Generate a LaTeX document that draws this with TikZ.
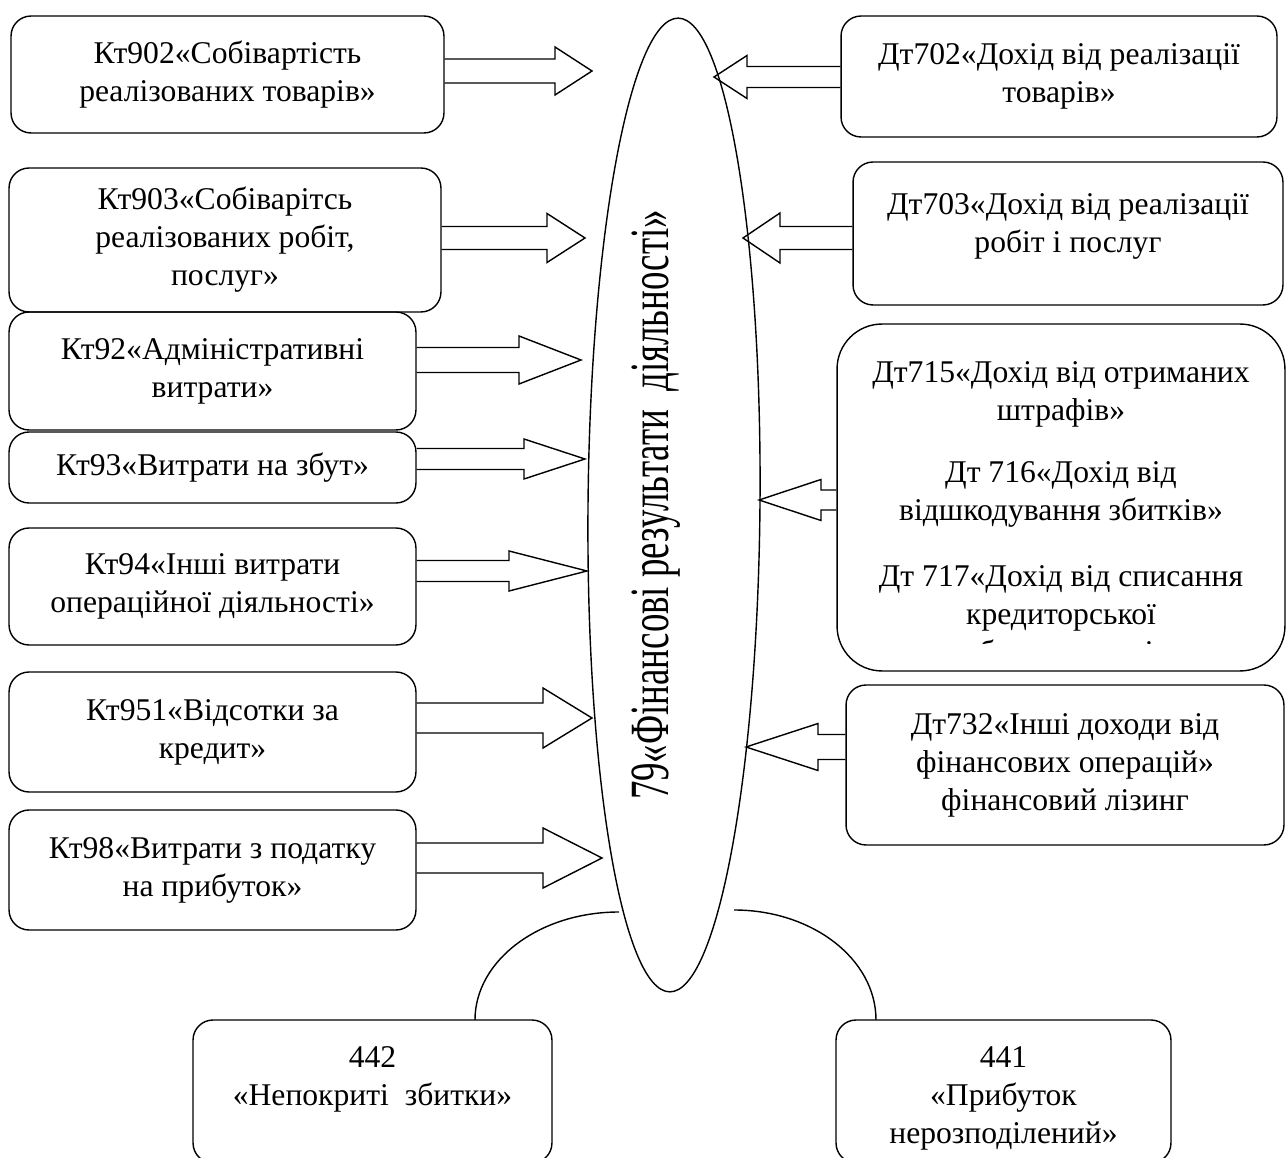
\documentclass[tikz,border=0pt]{standalone}
\usepackage{fontspec}
\setmainfont{Liberation Serif}
\usepackage{tikz}
\usetikzlibrary{shapes.geometric}
\usetikzlibrary{calc}

\newcommand{\boxfont}{\fontsize{18}{21.6}\selectfont}
\newcommand{\bigfont}{\fontsize{21}{25}\selectfont}

\tikzset{
  acc/.style={draw, line width=0.8pt, rounded corners=0.4cm, align=center, inner sep=0pt, font=\boxfont},
  txt/.style={align=center, inner sep=0pt, font=\boxfont},
  barrow/.style={line width=0.8pt, line join=miter},
}

% block arrow: start, tip, shaft half width, head half width, head length
\newcommand{\blockarrow}[5]{%
  \draw[barrow] ($(#1)+(0,-#3)$) -- ($(#2)+(-#5,-#3)$) -- ($(#2)+(-#5,-#4)$) -- (#2)
    -- ($(#2)+(-#5,#4)$) -- ($(#2)+(-#5,#3)$) -- ($(#1)+(0,#3)$);}

\begin{document}
\begin{tikzpicture}[x=0.02cm,y=-0.02cm]
\clip (0,0) rectangle (1286,1158);

% centre
\node[draw, ellipse, line width=0.8pt, minimum width=3.44cm, minimum height=19.48cm, rotate=-0.5] (fin) at (674,505) {};
\node[rotate=90, anchor=base, font=\bigfont] (title) at (668,505) {\scalebox{1}[1.5]{79«Фінансові результати~ діяльності»}};

% left: expenses
\node[acc, minimum width=8.66cm, minimum height=2.34cm] (kt902) at (227.5,74.5) {Кт902«Собівартість\\реалізованих товарів»};
\node[acc, minimum width=8.64cm, minimum height=2.88cm] (kt903) at (225,240) {Кт903«Собіварітсь\\реалізованих робіт,\\послуг»};
\node[acc, minimum width=8.14cm, minimum height=2.36cm] (kt92) at (212.5,371) {Кт92«Адміністративні\\витрати»};
\node[acc, minimum width=8.14cm, minimum height=1.42cm] (kt93) at (212.5,467.5) {Кт93«Витрати на збут»};
\node[acc, minimum width=8.14cm, minimum height=2.34cm] (kt94) at (212.5,586.5) {Кт94«Інші витрати\\операційної діяльності»};
\node[acc, minimum width=8.14cm, minimum height=2.40cm] (kt951) at (212.5,732) {Кт951«Відсотки за\\кредит»};
\node[acc, minimum width=8.14cm, minimum height=2.40cm] (kt98) at (212.5,870) {Кт98«Витрати з податку\\на прибуток»};

% right: income
\node[acc, minimum width=8.72cm, minimum height=2.42cm] (dt702) at (1059,76.5) {Дт702«Дохід від реалізації\\товарів»};
\node[acc, minimum width=8.60cm, minimum height=2.86cm, text depth=0.42cm] (dt703) at (1068,233.5) {Дт703«Дохід від реалізації\\робіт і послуг};
\node[acc, rounded corners=0.9cm, minimum width=8.96cm, minimum height=6.94cm] (dt71x) at (1061,497.5) {};
\node[txt] (dt715) at (1061,394.5) {Дт715«Дохід від отриманих\\штрафів»};
\node[txt] (dt716) at (1061,494.5) {Дт 716«Дохід від\\відшкодування збитків»};
\begin{scope}
\clip (837,324) rectangle (1285,644);
\node[txt] (dt717) at (1061,617) {Дт 717«Дохід від списання\\кредиторської\\заборгованості»};
\end{scope}
\node[acc, minimum width=8.76cm, minimum height=3.2cm] (dt732) at (1065,765) {Дт732«Інші доходи від\\фінансових операцій»\\фінансовий лізинг};

% bottom
\node[acc, minimum width=7.18cm, minimum height=2.86cm] (r442) at (372.5,1091.5) {};
\node[txt] (t442) at (372.5,1079) {442\\«Непокриті~ збитки»};
\node[acc, minimum width=6.70cm, minimum height=2.86cm] (r441) at (1003.5,1091.5) {};
\node[txt] (t441) at (1003.5,1098) {441\\«Прибуток\\нерозподілений»};

% arrow tips
\coordinate (t1) at (592,71);
\coordinate (t2) at (585,238);
\coordinate (t3) at (581,360);
\coordinate (t4) at (585,459);
\coordinate (t5) at (587,571);
\coordinate (t6) at (592,718);
\coordinate (t7) at (602,858);
\coordinate (u1) at (714,77);
\coordinate (u2) at (743,238);
\coordinate (u3) at (759,500);
\coordinate (u4) at (746,747);

\blockarrow{kt902.east |- t1}{t1}{12}{24}{37}
\blockarrow{kt903.east |- t2}{t2}{11.5}{24.5}{38}
\blockarrow{kt92.east |- t3}{t3}{12.5}{24}{62}
\blockarrow{kt93.east |- t4}{t4}{10.5}{20}{61}
\blockarrow{kt94.east |- t5}{t5}{10.5}{20}{78}
\blockarrow{kt951.east |- t6}{t6}{15}{30}{49}
\blockarrow{kt98.east |- t7}{t7}{15}{30}{59}
\blockarrow{dt702.west |- u1}{u1}{10.5}{21.5}{-33}
\blockarrow{dt703.west |- u2}{u2}{11.5}{25}{-37}
\blockarrow{dt71x.west |- u3}{u3}{10}{20.5}{-62}
\blockarrow{dt732.west |- u4}{u4}{12.5}{23.5}{-72}

% result arcs
\coordinate (a442) at (619,912);
\coordinate (a441) at (734,910);
\draw[line width=0.8pt] (a442) arc[start angle=-90, end angle=-180, x radius=144, y radius=108];
\draw[line width=0.8pt] (a441) arc[start angle=-90, end angle=0, x radius=142, y radius=110];
\end{tikzpicture}
\end{document}
